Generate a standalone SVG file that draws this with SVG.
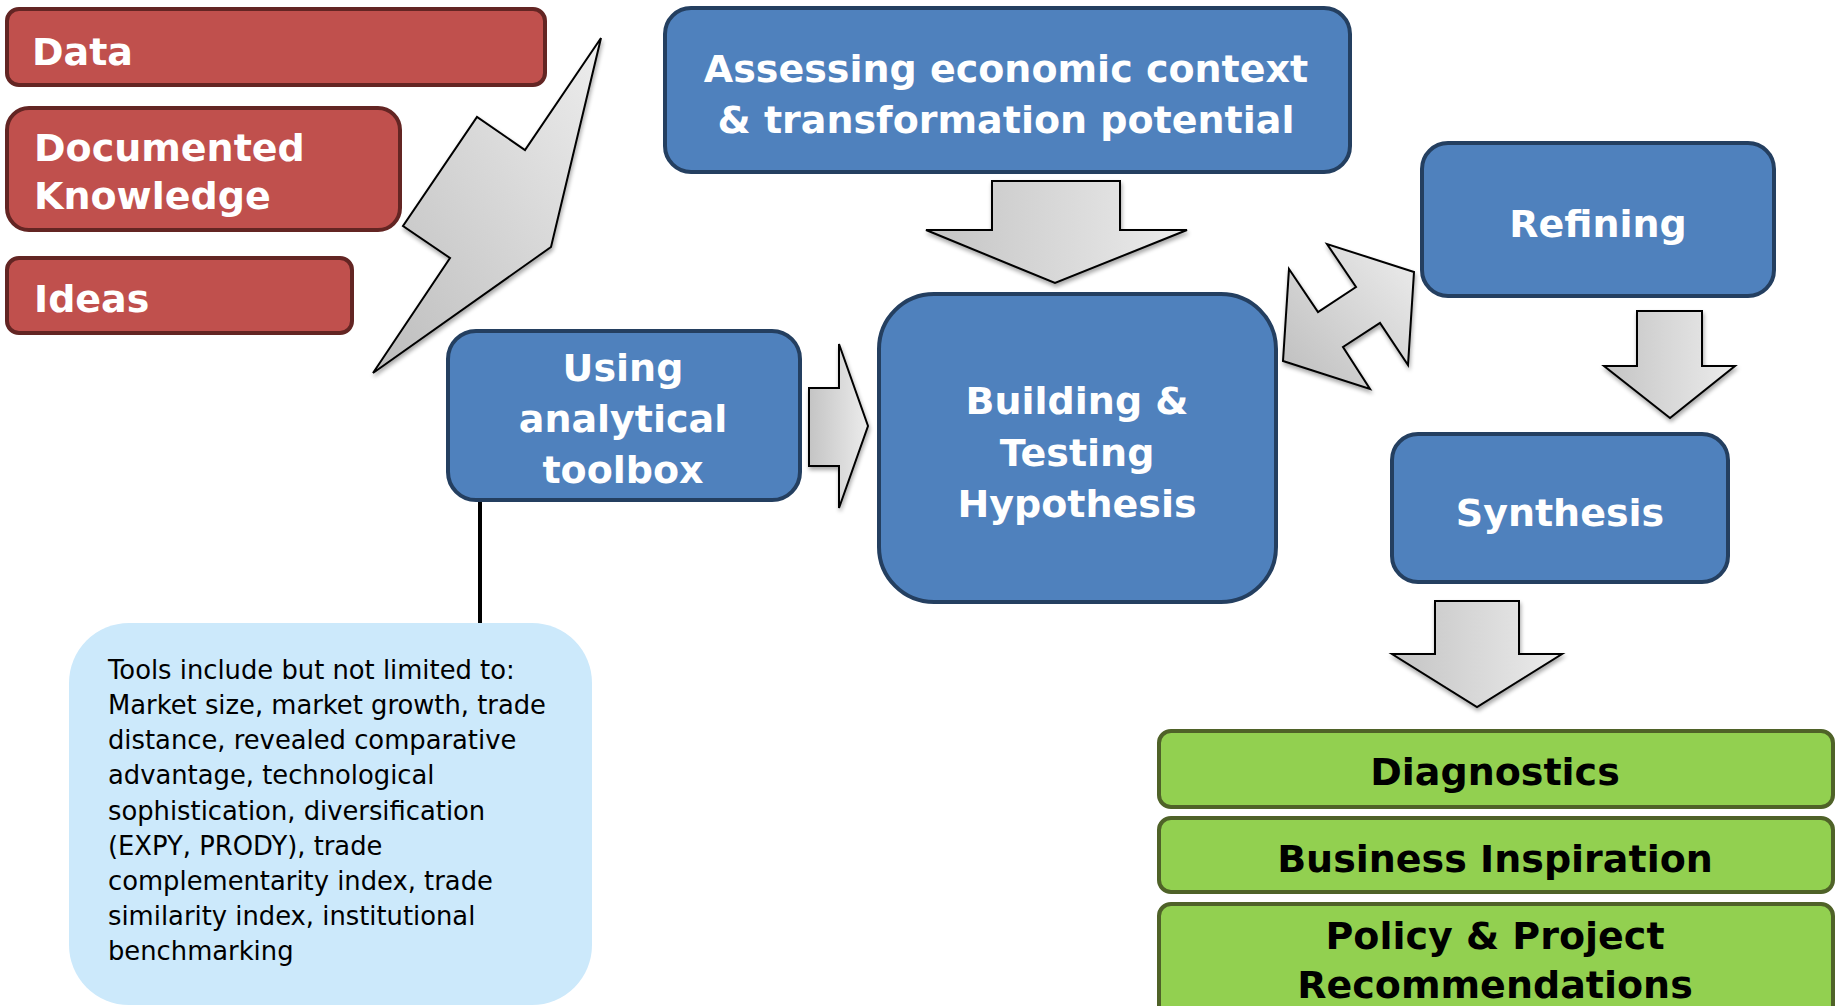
<svg xmlns="http://www.w3.org/2000/svg" width="1841" height="1006" viewBox="0 0 1841 1006">
<style>
.red{fill:#c0504d;stroke:#632523;stroke-width:4}
.blue{fill:#4f81bd;stroke:#243f60;stroke-width:4}
.green{fill:#92d050;stroke:#4f6228;stroke-width:4}
.note{fill:#cce9fb}
.arw{fill:url(#g);stroke:#000;stroke-width:2;stroke-linejoin:miter;filter:url(#sh)}
.tw{font-family:"DejaVu Sans",Verdana,sans-serif;font-weight:bold;font-size:38px;fill:#fff}
.tc{text-anchor:middle}
.tb{font-family:"DejaVu Sans",Verdana,sans-serif;font-weight:bold;font-size:38px;fill:#000;text-anchor:middle}
.tn{font-family:"DejaVu Sans",Verdana,sans-serif;font-size:25.8px;fill:#000}
</style>
<defs>
<linearGradient id="g" x1="0" y1="0" x2="1" y2="0">
<stop offset="0" stop-color="#c4c4c4"/>
<stop offset="1" stop-color="#ececec"/>
</linearGradient>
<linearGradient id="gb" x1="0" y1="1" x2="1" y2="0">
<stop offset="0" stop-color="#bdbdbd"/>
<stop offset="1" stop-color="#ededed"/>
</linearGradient>
<filter id="sh" x="-10%" y="-10%" width="130%" height="130%">
<feGaussianBlur in="SourceAlpha" stdDeviation="2"/>
<feOffset dx="1" dy="3" result="o"/>
<feComponentTransfer><feFuncA type="linear" slope="0.35"/></feComponentTransfer>
<feMerge><feMergeNode/><feMergeNode in="SourceGraphic"/></feMerge>
</filter>
</defs>

<g id="connectors">
<polygon class="arw" style="fill:url(#gb)" points="601,38 525,150 477,117 403,226 450,258 373,373 551,247"/>
<polygon class="arw" points="992,181 1120,181 1120,230 1187,230 1055,283 926,230 992,230"/>
<polygon class="arw" points="809,388 839,388 839,344 868,426 839,508 839,466 809,466"/>
<polygon class="arw" style="fill:url(#gb)" points="1289,269 1318,312 1356,287 1327,244 1414,272 1408,365 1380,323 1343,347 1370,389 1283,361"/>
<polygon class="arw" points="1637,311 1702,311 1702,366 1735,366 1670,418 1604,366 1637,366"/>
<polygon class="arw" points="1435,601 1519,601 1519,654 1562,654 1477,707 1392,654 1435,654"/>
<line x1="480" y1="500" x2="480" y2="623" stroke="#000" stroke-width="4"/>
</g>

<g id="data">
<rect class="red" x="7" y="9" width="538" height="76" rx="12"/>
<text class="tw" x="32" y="65">Data</text>
</g>
<g id="documented-knowledge">
<rect class="red" x="7" y="108" width="393" height="122" rx="22"/>
<text class="tw" x="34" y="161">Documented</text>
<text class="tw" x="34" y="209">Knowledge</text>
</g>
<g id="ideas">
<rect class="red" x="7" y="258" width="345" height="75" rx="12"/>
<text class="tw" x="34" y="312">Ideas</text>
</g>

<g id="assessing">
<rect class="blue" x="665" y="8" width="685" height="164" rx="26"/>
<text class="tw tc" x="1006" y="82">Assessing economic context</text>
<text class="tw tc" x="1006" y="133">&amp; transformation potential</text>
</g>

<g id="toolbox">
<rect class="blue" x="448" y="331" width="352" height="169" rx="28"/>
<text class="tw tc" x="623" y="381">Using</text>
<text class="tw tc" x="623" y="432">analytical</text>
<text class="tw tc" x="623" y="483">toolbox</text>
</g>

<g id="building">
<rect class="blue" x="879" y="294" width="397" height="308" rx="55"/>
<text class="tw tc" x="1077" y="414">Building &amp;</text>
<text class="tw tc" x="1077" y="466">Testing</text>
<text class="tw tc" x="1077" y="517">Hypothesis</text>
</g>

<g id="refining">
<rect class="blue" x="1422" y="143" width="352" height="153" rx="26"/>
<text class="tw tc" x="1598" y="237">Refining</text>
</g>

<g id="synthesis">
<rect class="blue" x="1392" y="434" width="336" height="148" rx="26"/>
<text class="tw tc" x="1560" y="526">Synthesis</text>
</g>

<g id="diagnostics">
<rect class="green" x="1159" y="731" width="674" height="76" rx="12"/>
<text class="tb" x="1495" y="785">Diagnostics</text>
</g>
<g id="business-inspiration">
<rect class="green" x="1159" y="818" width="674" height="74" rx="12"/>
<text class="tb" x="1495" y="872">Business Inspiration</text>
</g>
<g id="policy">
<rect class="green" x="1159" y="904" width="674" height="120" rx="12"/>
<text class="tb" x="1495" y="949">Policy &amp; Project</text>
<text class="tb" x="1495" y="998">Recommendations</text>
</g>

<g id="tools-note">
<rect class="note" x="69" y="623" width="523" height="382" rx="60"/>
<text class="tn" x="108" y="679">Tools include but not limited to:</text>
<text class="tn" x="108" y="714">Market size, market growth, trade</text>
<text class="tn" x="108" y="749">distance, revealed comparative</text>
<text class="tn" x="108" y="784">advantage, technological</text>
<text class="tn" x="108" y="820">sophistication, diversification</text>
<text class="tn" x="108" y="855">(EXPY, PRODY), trade</text>
<text class="tn" x="108" y="890">complementarity index, trade</text>
<text class="tn" x="108" y="925">similarity index, institutional</text>
<text class="tn" x="108" y="960">benchmarking</text>
</g>
</svg>
